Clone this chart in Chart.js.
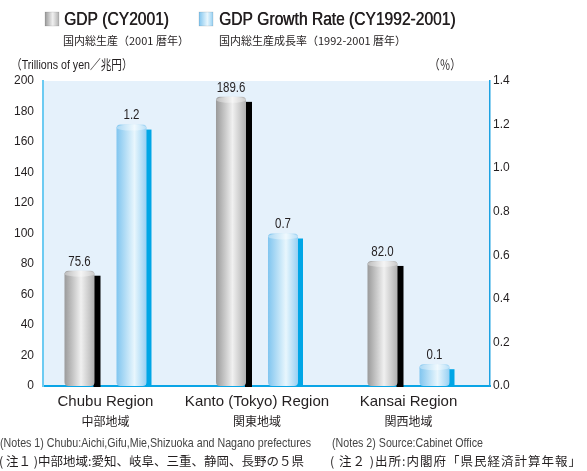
<!DOCTYPE html>
<html>
<head>
<meta charset="utf-8">
<script src="https://cdn.jsdelivr.net/npm/chart.js@4.4.0/dist/chart.umd.min.js"></script>
<style>
  html, body { margin: 0; padding: 0; background: #fff; }
  #wrap { width: 587px; height: 471px; }
</style>
</head>
<body>
<div id="wrap"><canvas id="gdpChart" width="587" height="471"></canvas></div>
<script>
// GDP by region and GDP growth rate
const regions = ['Chubu Region', 'Kanto (Tokyo) Region', 'Kansai Region'];
const regionsJa = ['中部地域', '関東地域', '関西地域'];
const gdp = [75.6, 189.6, 82.0];        // trillions of yen, CY2001
const growthRate = [1.2, 0.7, 0.1];     // %, CY1992-2001
const gdpTicks = [0, 20, 40, 60, 80, 100, 120, 140, 160, 180, 200];
const rateTicks = [0, 0.2, 0.4, 0.6, 0.8, 1.0, 1.2, 1.4];
const seriesNames = ['GDP (CY2001)', 'GDP Growth Rate (CY1992-2001)'];
const seriesNamesJa = ['国内総生産（2001 暦年）', '国内総生産成長率（1992-2001 暦年）'];

const SANS = '"Liberation Sans", Arial, "Noto Sans CJK JP", sans-serif';
const JA = '"Noto Sans CJK JP", sans-serif';
const TEXT = '#231f20';
const NARROW = 0.82;   // horizontal squeeze, the original uses a condensed face
const X_MIN = -0.4125, X_MAX = 2.538;

const grayTones = [[0, '#9a9a9a'], [0.55, '#f0f0f0'], [1, '#b0b0b0']];
const blueTones = [[0, '#80c5ef'], [0.6, '#e8f6fd'], [1, '#96d0f3']];

function hGrad(ctx, left, right, tones) {
    const g = ctx.createLinearGradient(left, 0, right, 0);
    tones.forEach(([s, c]) => g.addColorStop(s, c));
    return g;
}

function narrowText(ctx, text, x, y, sx, heavy) {
    ctx.save();
    ctx.translate(x, y);
    ctx.scale(sx, 1);
    ctx.fillText(text, 0, 0);
    if (heavy) ctx.fillText(text, 0.6, 0);
    ctx.restore();
}

// plot background, bar shadows, cylinder caps, value labels, legend and notes
const cylinders = {
    id: 'cylinders',
    beforeDraw(chart) {
        const { ctx, chartArea: a } = chart;
        ctx.save();
        ctx.fillStyle = '#e5f1fb';
        ctx.fillRect(a.left, a.top, a.right - a.left, a.bottom - a.top);
        ctx.restore();
    },
    beforeDatasetsDraw(chart) {
        const ctx = chart.ctx;
        chart.data.datasets.forEach((ds, di) => {
            chart.getDatasetMeta(di).data.forEach(bar => {
                const left = bar.x - bar.width / 2, right = bar.x + bar.width / 2;
                bar.options.backgroundColor = hGrad(ctx, left, right, ds.tones);
                ctx.save();
                ctx.fillStyle = ds.shadow;
                ctx.fillRect(right - 1, bar.y + 5, ds.shadowWidth + 1, bar.base - bar.y - 4);
                ctx.restore();
            });
        });
    },
    afterDatasetsDraw(chart) {
        const ctx = chart.ctx;
        chart.data.datasets.forEach((ds, di) => {
            chart.getDatasetMeta(di).data.forEach((bar, i) => {
                const left = bar.x - bar.width / 2, right = bar.x + bar.width / 2;
                ctx.save();
                ctx.beginPath();
                ctx.ellipse(bar.x, bar.y + 3, bar.width / 2, 3, 0, 0, Math.PI * 2);
                ctx.fillStyle = hGrad(ctx, left, right, ds.tones);
                ctx.fill();
                ctx.fillStyle = 'rgba(255,255,255,0.35)';
                ctx.fill();
                ctx.fillStyle = TEXT;
                ctx.font = '14px ' + SANS;
                ctx.textAlign = 'center';
                ctx.textBaseline = 'bottom';
                narrowText(ctx, ds.values[i].toFixed(1), bar.x, bar.y - 2, NARROW);
                ctx.restore();
            });
        });
    },
    afterDraw(chart) {
        const ctx = chart.ctx;
        ctx.save();
        // legend
        [[45, grayTones], [199, blueTones]].forEach(([x, tones]) => {
            ctx.fillStyle = hGrad(ctx, x, x + 14, tones);
            ctx.fillRect(x, 12, 14, 14);
            ctx.strokeStyle = 'rgba(0,0,0,0.2)';
            ctx.lineWidth = 0.5;
            ctx.strokeRect(x, 12, 14, 14);
        });
        ctx.fillStyle = TEXT;
        ctx.textBaseline = 'middle';
        ctx.textAlign = 'left';
        ctx.font = '19px ' + SANS;
        narrowText(ctx, seriesNames[0], 64, 20, NARROW, true);
        narrowText(ctx, seriesNames[1], 219, 20, NARROW, true);
        ctx.font = '11px ' + JA;
        ctx.fillText(seriesNamesJa[0], 63, 41);
        ctx.fillText(seriesNamesJa[1], 219, 41);
        // axis titles
        ctx.font = '13px ' + SANS;
        narrowText(ctx, '（Trillions of yen／兆円）', 11, 65, NARROW);
        narrowText(ctx, '（％）', 429, 65, NARROW);
        // notes
        ctx.fillStyle = '#444';
        ctx.font = '13px ' + SANS;
        narrowText(ctx, '(Notes 1) Chubu:Aichi,Gifu,Mie,Shizuoka and Nagano prefectures', 0, 443, NARROW);
        narrowText(ctx, '(Notes 2) Source:Cabinet Office', 332, 443, NARROW);
        ctx.fillStyle = TEXT;
        ctx.font = '12.5px ' + JA;
        ctx.fillText('( 注１ )中部地域:愛知、岐阜、三重、静岡、長野の５県', -1, 461);
        ctx.letterSpacing = '1px';
        ctx.fillText('( 注２ )出所:内閣府「県民経済計算年報」', 330, 461);
        ctx.restore();
    }
};

function fixRange(s) { s.min = X_MIN; s.max = X_MAX; }

const ctx = document.getElementById('gdpChart').getContext('2d');
const gdpChart = new Chart(ctx, {
    type: 'bar',
    data: {
        datasets: [{
            label: seriesNames[0],
            data: gdp.map((v, i) => ({ x: i, y: v })),
            values: gdp,
            xAxisID: 'x',
            yAxisID: 'y',
            tones: grayTones,
            shadow: '#000000',
            shadowWidth: 6,
            // scriptable so each bar gets its own options (gradient set per bar)
            backgroundColor: () => '#d0d0d0'
        }, {
            label: seriesNames[1],
            data: growthRate.map((v, i) => ({ x: i, y: v })),
            values: growthRate,
            xAxisID: 'x',
            yAxisID: 'y2',
            tones: blueTones,
            shadow: '#00a6e6',
            shadowWidth: 5,
            backgroundColor: () => '#a8daf5'
        }]
    },
    options: {
        responsive: false,
        animation: false,
        categoryPercentage: 0.6865,
        barPercentage: 0.577,
        borderRadius: 4,
        borderSkipped: false,
        layout: { padding: { top: 81, left: 0, right: 0, bottom: 0 } },
        plugins: {
            legend: { display: false },
            tooltip: { enabled: false }
        },
        scales: {
            x: {
                type: 'linear', position: 'bottom', weight: 0,
                min: X_MIN, max: X_MAX, bounds: 'data', offset: false, grace: 0,
                afterDataLimits: fixRange,
                grid: { display: false, drawTicks: false },
                border: { display: true, color: '#0aa5e6', width: 2 },
                afterBuildTicks: s => { s.ticks = regions.map((_, i) => ({ value: i })); },
                ticks: {
                    color: TEXT, padding: 7, autoSkip: false, maxRotation: 0, minRotation: 0,
                    font: { family: SANS, size: 15 },
                    callback: v => regions[v]
                },
                afterFit: s => { s.height = 25; }
            },
            xj: {
                type: 'linear', axis: 'x', position: 'bottom', weight: 1,
                min: X_MIN, max: X_MAX, bounds: 'data', offset: false, grace: 0,
                afterDataLimits: fixRange,
                grid: { display: false, drawTicks: false },
                border: { display: false },
                afterBuildTicks: s => { s.ticks = regionsJa.map((_, i) => ({ value: i })); },
                ticks: {
                    color: TEXT, padding: 3, autoSkip: false, maxRotation: 0, minRotation: 0,
                    font: { family: JA, size: 12 },
                    callback: v => regionsJa[v]
                },
                afterFit: s => { s.height = 60; }
            },
            y: {
                position: 'left', min: 0, max: 200,
                grid: { display: false, drawTicks: false },
                border: { display: true, color: '#6ccbf2', width: 2 },
                afterBuildTicks: s => { s.ticks = gdpTicks.map(v => ({ value: v })); },
                ticks: { color: TEXT, padding: 9, font: { family: SANS, size: 12 } },
                afterFit: s => { s.width = 43; }
            },
            y2: {
                position: 'right', min: 0, max: 1.4,
                grid: { display: false, drawTicks: false },
                border: { display: true, color: '#1ca2e2', width: 1.5 },
                afterBuildTicks: s => { s.ticks = rateTicks.map(v => ({ value: v })); },
                ticks: {
                    color: TEXT, padding: 3, font: { family: SANS, size: 12 },
                    callback: v => v.toFixed(1)
                },
                afterFit: s => { s.width = 97; }
            }
        }
    },
    plugins: [cylinders]
});
</script>
</body>
</html>
